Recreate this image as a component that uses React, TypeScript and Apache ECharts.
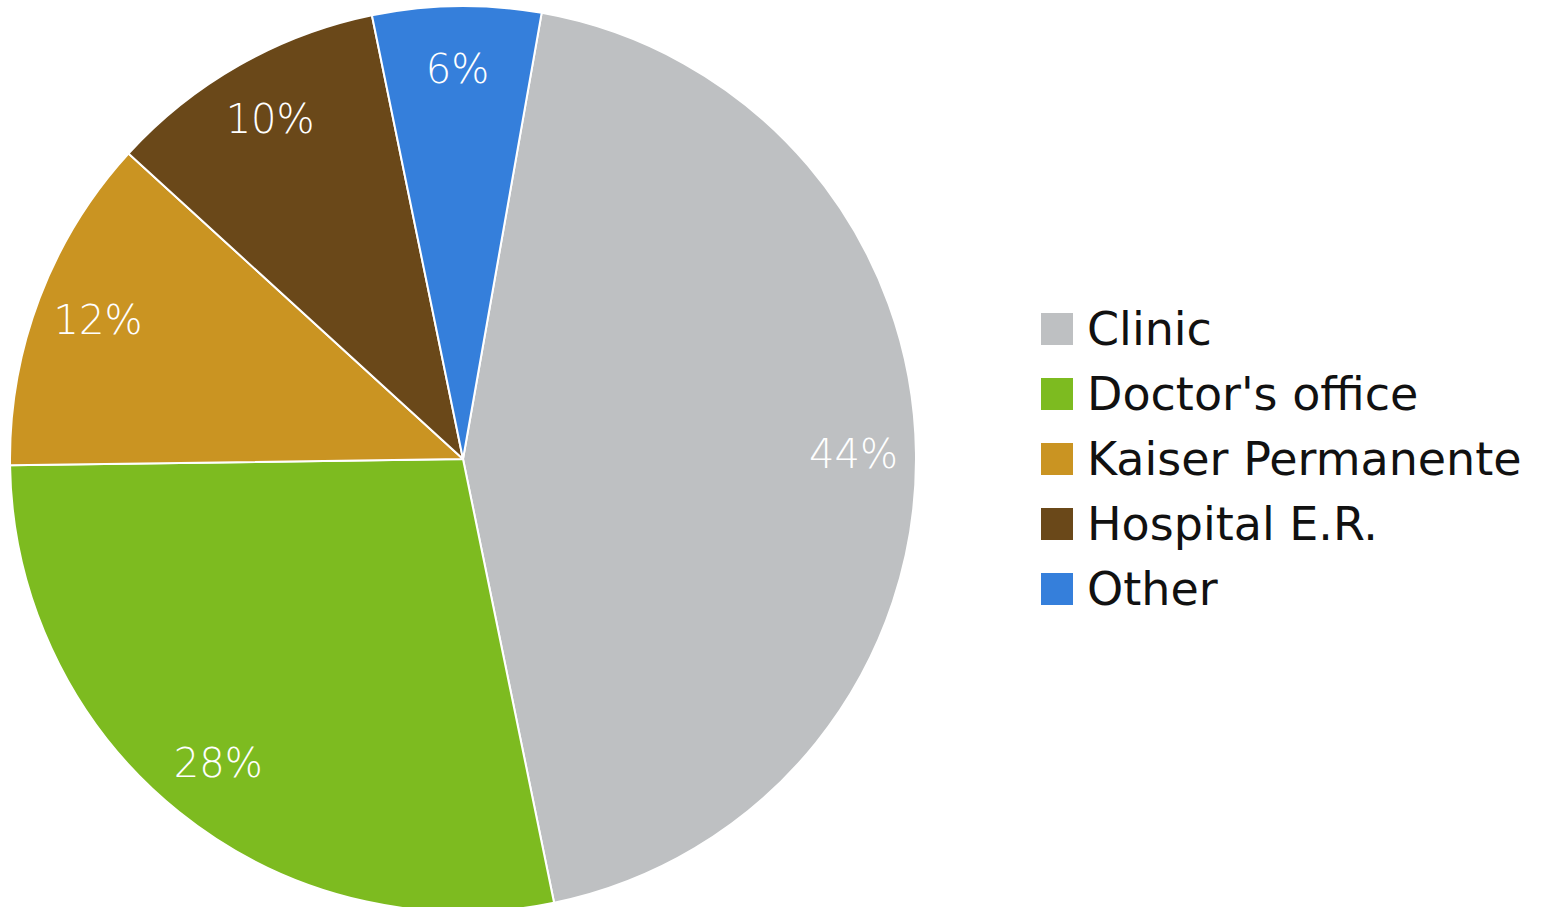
import React, { useEffect, useRef } from "react";
import * as echarts from "echarts";

const categories = ["Clinic", "Doctor's office", "Kaiser Permanente", "Hospital E.R.", "Other"];
const values = [44, 28, 12, 10, 6];
const colors = ["#BEC0C2", "#7DBB20", "#CA9422", "#6A4819", "#357FDB"];

export default function App() {
  const ref = useRef<HTMLDivElement>(null);
  useEffect(() => {
    if (!ref.current) return;
    const chart = echarts.init(ref.current, null, { renderer: "svg" });
    const data = categories.map((name, i) => ({
      name,
      value: values[i],
      itemStyle: { color: colors[i] },
    }));
    chart.setOption({
      animation: false,
      backgroundColor: "#ffffff",
      legend: {
        orient: "vertical",
        left: 1039,
        top: 306,
        padding: 0,
        icon: "rect",
        itemWidth: 34,
        itemHeight: 34,
        itemGap: 19,
        selectedMode: false,
        data: categories,
        textStyle: {
          fontFamily: "DejaVu Sans",
          fontSize: 46,
          color: "#111111",
          lineHeight: 46,
          padding: [0, 0, 0, 8],
        },
      },
      series: [
        {
          type: "pie",
          center: [463, 459],
          radius: [0, 453],
          startAngle: 80,
          clockwise: true,
          silent: true,
          label: { show: false },
          labelLine: { show: false },
          itemStyle: { borderColor: "#ffffff", borderWidth: 2 },
          data,
        },
        {
          type: "pie",
          center: [463, 459],
          radius: [322, 453],
          startAngle: 80,
          clockwise: true,
          silent: true,
          itemStyle: { color: "rgba(0,0,0,0)", borderWidth: 0 },
          label: {
            show: true,
            position: "inside",
            formatter: (p: any) => p.value + "%",
            color: "#ffffff",
            fontFamily: "DejaVu Sans",
            fontSize: 40,
            fontWeight: 200,
          },
          labelLine: { show: false },
          data: categories.map((name, i) => ({
            name,
            value: values[i],
            itemStyle: { color: "rgba(0,0,0,0)" },
          })),
        },
      ],
    });
    return () => chart.dispose();
  }, []);
  return (
    <div
      ref={ref}
      style={{ position: "fixed", left: 0, top: 0, width: 1546, height: 907 }}
    />
  );
}
